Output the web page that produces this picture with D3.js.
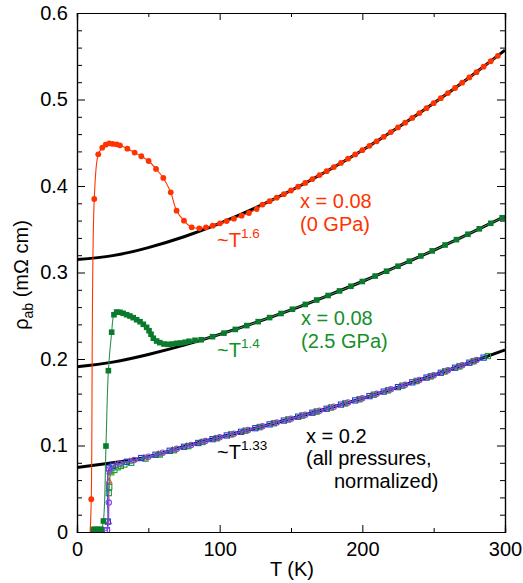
<!DOCTYPE html>
<html><head><meta charset="utf-8">
<script src="https://cdn.jsdelivr.net/npm/d3@7"></script>
<style>
body{margin:0;background:#fff;}
svg{display:block;font-family:"Liberation Sans",Arial,Helvetica,sans-serif;}
</style></head>
<body>
<svg id="c" width="523" height="583"></svg>
<script>
// ---------- data ----------
const xTicks = [0, 100, 200, 300];
const xMinorTicks = [50, 150, 250];
const yTicks = [0, 0.1, 0.2, 0.3, 0.4, 0.5, 0.6];
const yMinorTicks = [0.02,0.04,0.06,0.08,0.12,0.14,0.16,0.18,0.22,0.24,0.26,0.28,0.32,0.34,0.36,0.38,0.42,0.44,0.46,0.48,0.52,0.54,0.56,0.58];

// power-law fit curves
const fitT     = [0, 25, 50, 75, 100, 125, 150, 175, 200, 225, 250, 275, 300];
const fit0GPa  = [0.315, 0.3195, 0.3288, 0.3413, 0.3568, 0.3747, 0.3948, 0.4171, 0.4414, 0.4677, 0.4957, 0.5255, 0.557];
const fit25GPa = [0.191, 0.1964, 0.2052, 0.2160, 0.2284, 0.2420, 0.2568, 0.2728, 0.2896, 0.3073, 0.3257, 0.3450, 0.3649];
const fitX02   = [0.0745, 0.0800, 0.0870, 0.0985, 0.1095, 0.1200, 0.1310, 0.1425, 0.1545, 0.1675, 0.1812, 0.1957, 0.2105];

// x = 0.08, 0 GPa (red filled circles)
const redT   = [9, 10, 12.1, 14.9, 17.7, 20.1, 22.6, 25, 27.8, 30.1, 35.3, 40.4, 45.1, 50.2, 55.4, 60.5, 65.7, 69.8, 75, 80.4, 85.7, 90.4, 95.1, 100.2, 104.9, 110, 115.4, 120.5, 125.9,
  130, 135, 140, 145, 150, 155, 160, 165, 170, 175, 180, 185, 190, 195, 200, 205, 210, 215, 220, 225, 230, 235, 240, 245, 250, 255, 260, 265, 270, 275, 280, 285, 290, 295];
const redRho = [-0.01, 0.038, 0.385, 0.4366, 0.4443, 0.4478, 0.4493, 0.4486, 0.4482, 0.447, 0.4432, 0.4386, 0.4344, 0.4289, 0.4197, 0.4093, 0.3927, 0.3715, 0.3599, 0.3522, 0.3511, 0.3522, 0.3541, 0.3569, 0.3595, 0.3622, 0.3657, 0.3688, 0.3734,
  0.3785, 0.3825, 0.3865, 0.3906, 0.3948, 0.3992, 0.4036, 0.4080, 0.4126, 0.4171, 0.4219, 0.4267, 0.4316, 0.4365, 0.4414, 0.4465, 0.4517, 0.4569, 0.4623, 0.4677, 0.4732, 0.4787, 0.4843, 0.4900, 0.4957, 0.5015, 0.5074, 0.5133, 0.5194, 0.5255, 0.5316, 0.5379, 0.5442, 0.5505];

// x = 0.08, 2.5 GPa (green filled squares)
const grnT   = [11, 12.5, 14, 15.5, 17, 18.5, 20.3, 22, 24.3, 25.9, 27.8, 30.1, 32.4, 34.8, 37.1, 39.4, 41.8, 44.2, 46.5, 48.8, 50.5, 51.9, 53.5, 55.8, 58.1, 61, 64, 67, 69.8, 72.6, 75.7, 78.5, 82.7,
  87, 95, 103, 111, 119, 127, 135, 143, 151, 160, 168, 176, 184, 192, 200, 209, 217, 225, 233, 241, 249, 258, 266, 274, 282, 290, 298];
const grnRho = [0.003, 0.003, 0.003, 0.003, 0.003, 0.0127, 0.0994, 0.1865, 0.231, 0.2512, 0.2543, 0.254, 0.2528, 0.2512, 0.2497, 0.2478, 0.2454, 0.2431, 0.2401, 0.2366, 0.2327, 0.2286, 0.224, 0.2208, 0.2189, 0.2173, 0.217, 0.2173, 0.2181, 0.2185, 0.2193, 0.2205, 0.2216,
  0.2222, 0.2258, 0.2299, 0.2342, 0.2386, 0.2432, 0.2479, 0.2526, 0.2575, 0.2631, 0.2682, 0.2734, 0.2787, 0.2841, 0.2896, 0.2959, 0.3015, 0.3073, 0.3131, 0.3191, 0.3250, 0.3318, 0.3380, 0.3442, 0.3505, 0.3569, 0.3633];

// x = 0.2, all pressures normalized (open markers)
const blueT   = [21, 21.6, 22.4, 25, 35, 45, 55, 65, 75, 85, 95, 105, 115, 125, 135, 145, 155, 165, 175, 185, 195, 205, 215, 225, 235, 245, 255, 265, 275, 285];
const blueRho = [0.002, 0.012, 0.0736, 0.0765, 0.0812, 0.0855, 0.0893, 0.0939, 0.0985, 0.1029, 0.1073, 0.1116, 0.1158, 0.1200, 0.1244, 0.1288, 0.1333, 0.1379, 0.1425, 0.1473, 0.1521, 0.1571, 0.1623, 0.1675, 0.1730, 0.1785, 0.1841, 0.1899, 0.1957, 0.2016];
const purpT   = [19.5, 21, 22.3, 22.7, 30, 40, 50, 60, 70, 80, 90, 100, 110, 120, 130, 140, 150, 160, 170, 180, 190, 200, 210, 220, 230, 240, 250, 260, 270, 280];
const purpRho = [0.002, 0.002, 0.034, 0.072, 0.0790, 0.0832, 0.0870, 0.0916, 0.0962, 0.1007, 0.1051, 0.1095, 0.1137, 0.1179, 0.1222, 0.1266, 0.1310, 0.1356, 0.1402, 0.1449, 0.1497, 0.1545, 0.1597, 0.1649, 0.1702, 0.1757, 0.1812, 0.1870, 0.1928, 0.1987];
const gopT    = [22.3, 22.6, 24, 26.2, 28.5, 30.8, 33.2, 38, 48, 58, 68, 78, 88, 98, 108, 118, 128, 138, 148, 158, 168, 178, 188, 198, 208, 218, 228, 238, 248, 258, 268, 278, 288];
const gopRho  = [0.045, 0.052, 0.069, 0.0717, 0.0748, 0.0763, 0.078, 0.0800, 0.0848, 0.0895, 0.0945, 0.0993, 0.1040, 0.1084, 0.1129, 0.1171, 0.1213, 0.1257, 0.1301, 0.1347, 0.1393, 0.1439, 0.1487, 0.1535, 0.1587, 0.1639, 0.1691, 0.1746, 0.1801, 0.1858, 0.1916, 0.1975, 0.2034];
const triT    = [22.2, 22.5, 22.9, 27, 37, 47, 57, 67, 77, 87, 97, 107, 117, 127, 137, 147, 157, 167, 177, 187, 197, 207, 217, 227, 237, 247, 257, 267, 277];
const triRho  = [0.012, 0.059, 0.070, 0.0775, 0.0820, 0.0858, 0.0902, 0.0948, 0.0994, 0.1038, 0.1082, 0.1124, 0.1166, 0.1209, 0.1253, 0.1297, 0.1342, 0.1388, 0.1435, 0.1483, 0.1531, 0.1581, 0.1633, 0.1686, 0.1741, 0.1796, 0.1853, 0.1911, 0.1969];

// ---------- drawing ----------
const RED = "#ff3300", GRN = "#0a7a2c", GRNTXT = "#14902a";
const svg = d3.select("#c");
const L = 77, R = 505, T = 13, B = 532;
const x = d3.scaleLinear().domain([0, 300]).range([L, R]);
const y = d3.scaleLinear().domain([0, 0.6]).range([B, T]);
const FS = "20px";

svg.append("defs").append("clipPath").attr("id", "clip")
  .append("rect").attr("x", L).attr("y", T).attr("width", R - L).attr("height", B - T);
const plot = svg.append("g").attr("clip-path", "url(#clip)");

const zip = (a, b) => a.map((v, i) => [v, b[i]]);
const lineSmooth = d3.line().x(d => x(d[0])).y(d => y(d[1])).curve(d3.curveCatmullRom.alpha(0.5));
const lineNat = d3.line().x(d => x(d[0])).y(d => y(d[1])).curve(d3.curveNatural);

// fits
[fit0GPa, fit25GPa, fitX02].forEach(f => {
  plot.append("path").attr("d", lineNat(zip(fitT, f)))
    .attr("fill", "none").attr("stroke", "#000").attr("stroke-width", 3);
});

// x=0.2 cluster
function openSeries(tArr, rArr, color, shape) {
  const pts = zip(tArr, rArr);
  plot.append("path").attr("d", lineSmooth(pts)).attr("fill", "none")
    .attr("stroke", color).attr("stroke-width", 1);
  const g = plot.append("g");
  pts.forEach(p => {
    const cx = x(p[0]), cy = y(p[1]);
    if (shape === "sq") g.append("rect").attr("x", cx - 2.6).attr("y", cy - 2.6).attr("width", 5.2).attr("height", 5.2);
    else if (shape === "ci") g.append("circle").attr("cx", cx).attr("cy", cy).attr("r", 2.7);
    else g.append("path").attr("d", `M${cx},${cy-3}L${cx+2.8},${cy+2.2}L${cx-2.8},${cy+2.2}Z`);
  });
  g.selectAll("*").attr("fill", "none").attr("stroke", color).attr("stroke-width", 1.1);
}
openSeries(triT, triRho, "#d2553f", "tri");
openSeries(gopT, gopRho, "#1f9e2c", "sq");
openSeries(blueT, blueRho, "#1e3fe0", "sq");
openSeries(purpT, purpRho, "#8a45e6", "ci");

// green 2.5 GPa
const gPts = zip(grnT, grnRho);
plot.append("path").attr("d", lineSmooth(gPts)).attr("fill", "none")
  .attr("stroke", "#2e8f4c").attr("stroke-width", 1.1);
plot.append("g").selectAll("rect").data(gPts).join("rect")
  .attr("x", d => x(d[0]) - 2.8).attr("y", d => y(d[1]) - 2.8)
  .attr("width", 5.6).attr("height", 5.6).attr("fill", GRN);

// red 0 GPa
const rPts = zip(redT, redRho);
plot.append("path").attr("d", lineSmooth(rPts)).attr("fill", "none")
  .attr("stroke", RED).attr("stroke-width", 1.1);
plot.append("g").selectAll("circle").data(rPts).join("circle")
  .attr("cx", d => x(d[0])).attr("cy", d => y(d[1])).attr("r", 2.9).attr("fill", RED);

// axes
function styleAxis(g, labels) {
  g.select(".domain").attr("stroke", "#000").attr("stroke-width", 1.2);
  g.selectAll(".tick line").attr("stroke", "#000").attr("stroke-width", 1);
  g.selectAll(".tick text").attr("font-size", FS).attr("fill", "#000")
    .attr("font-family", '"Liberation Sans",Arial,sans-serif');
  if (!labels) g.selectAll(".tick text").remove();
}
const fmtY = d => d === 0 ? "0" : d3.format(".1f")(d);
// bottom
svg.append("g").attr("transform", `translate(0,${B})`)
  .call(d3.axisBottom(x).tickValues(xTicks).tickSize(-7).tickPadding(10).tickFormat(d3.format("d")))
  .call(g => styleAxis(g, true));
svg.append("g").attr("transform", `translate(0,${B})`)
  .call(d3.axisBottom(x).tickValues(xMinorTicks).tickSize(-4))
  .call(g => styleAxis(g, false));
// top
svg.append("g").attr("transform", `translate(0,${T})`)
  .call(d3.axisTop(x).tickValues(xTicks).tickSize(-7))
  .call(g => styleAxis(g, false));
svg.append("g").attr("transform", `translate(0,${T})`)
  .call(d3.axisTop(x).tickValues(xMinorTicks).tickSize(-4))
  .call(g => styleAxis(g, false));
// left
svg.append("g").attr("transform", `translate(${L},0)`)
  .call(d3.axisLeft(y).tickValues(yTicks).tickSize(-8).tickPadding(9).tickFormat(fmtY))
  .call(g => styleAxis(g, true));
svg.append("g").attr("transform", `translate(${L},0)`)
  .call(d3.axisLeft(y).tickValues(yMinorTicks).tickSize(-5))
  .call(g => styleAxis(g, false));
// right
svg.append("g").attr("transform", `translate(${R},0)`)
  .call(d3.axisRight(y).tickValues(yTicks).tickSize(-8))
  .call(g => styleAxis(g, false));
svg.append("g").attr("transform", `translate(${R},0)`)
  .call(d3.axisRight(y).tickValues(yMinorTicks).tickSize(-5))
  .call(g => styleAxis(g, false));

// axis titles
svg.append("text").attr("x", 292).attr("y", 576).attr("text-anchor", "middle")
  .attr("font-size", FS).text("T (K)");
const yl = svg.append("text").attr("transform", "translate(28,275) rotate(-90)")
  .attr("text-anchor", "middle").attr("font-size", FS);
yl.append("tspan").text("ρ");
yl.append("tspan").attr("font-size", "14px").attr("dy", 5).text("ab");
yl.append("tspan").attr("dy", -5).text(" (mΩ cm)");

// annotations
function powerLabel(px, py, exp, color) {
  const t = svg.append("text").attr("x", px).attr("y", py).attr("fill", color).attr("font-size", FS);
  t.append("tspan").text("~T");
  t.append("tspan").attr("font-size", "13.5px").attr("dy", -9).text(exp);
}
powerLabel(217, 247, "1.6", RED);
powerLabel(217, 357, "1.4", GRNTXT);
powerLabel(217, 459, "1.33", "#000");

function block(px, lines, color) {
  lines.forEach(l => svg.append("text").attr("x", px + (l[2] || 0)).attr("y", l[1])
    .attr("fill", color).attr("font-size", FS).text(l[0]));
}
block(300, [["x = 0.08", 208], ["(0 GPa)", 231]], RED);
block(301, [["x = 0.08", 325], ["(2.5 GPa)", 348]], GRNTXT);
block(306, [["x = 0.2", 443], ["(all pressures,", 465], ["normalized)", 488, 28]], "#000");
</script>
</body></html>
